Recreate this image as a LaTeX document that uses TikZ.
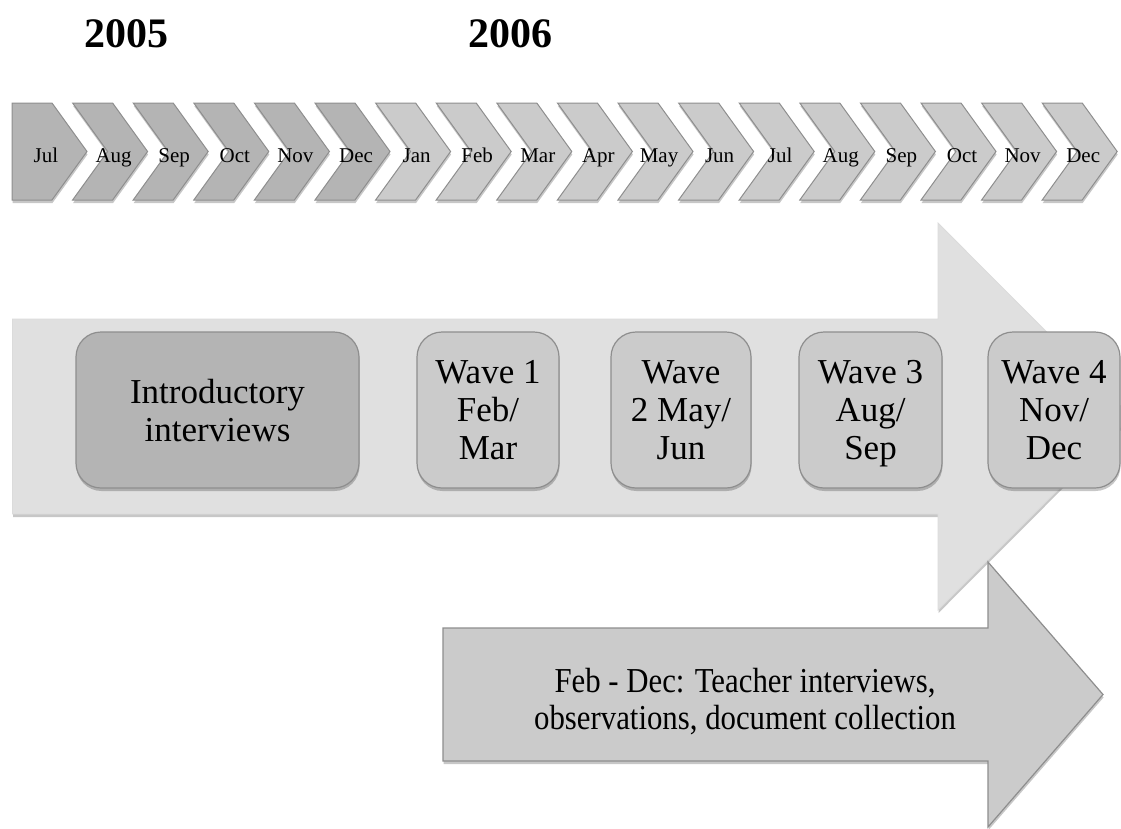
\documentclass[tikz,border=0pt]{standalone}
\usepackage{fontspec}
\setmainfont{Liberation Serif}
\newfontfamily\yearfont{Liberation Serif}
\usetikzlibrary{shadows}
\definecolor{darkg}{HTML}{B4B4B4}
\definecolor{lightg}{HTML}{CBCBCB}
\definecolor{paleg}{HTML}{E0E0E0}
\definecolor{edgeg}{HTML}{8E8E8E}
\begin{document}
\begin{tikzpicture}[x=1pt,y=-1pt,
  softshadow/.style={drop shadow={shadow xshift=0.5pt,shadow yshift=-3pt,opacity=0.22,fill=black}},
  chev/.style={draw=edgeg,line width=1pt,line join=miter,softshadow},
  month/.style={anchor=base,inner sep=0pt,font=\fontsize{21}{24}\selectfont},
  yearlab/.style={anchor=base,inner sep=0pt,font=\yearfont\fontsize{42}{46}\selectfont\bfseries},
  rbox/.style={draw=edgeg,line width=1.2pt,rounded corners=25pt,inner sep=0pt,
    minimum height=156pt,align=center,text depth=0pt,
    font=\fontsize{35}{38}\selectfont,softshadow},
  bigarrow/.style={fill=paleg,draw=black!14,line width=0.8pt,softshadow},
  lowarrow/.style={fill=lightg,draw=edgeg,line width=1.2pt,softshadow},
]
\useasboundingbox (0,0) rectangle (1121,828);

% years
\node[yearlab] (y2005) at (126.5,47) {2005};
\node[yearlab] (y2006) at (510.5,47) {2006};

% chevron timeline
\path[chev,fill=darkg] (12,103) -- (52,103) -- (87,151.5) -- (52,200) -- (12,200) -- cycle;
\node[month] (m0) at (46,162) {Jul};
\foreach \i/\m in {1/Aug,2/Sep,3/Oct,4/Nov,5/Dec,6/Jan,7/Feb,8/Mar,9/Apr,10/May,11/Jun,12/Jul,13/Aug,14/Sep,15/Oct,16/Nov,17/Dec}{
  \pgfmathsetmacro\xa{12+60.6*\i}
  \ifnum\i<6 \def\cc{darkg}\else\def\cc{lightg}\fi
  \path[chev,fill=\cc] (\xa,103) -- (\xa+40,103) -- (\xa+75,151.5) -- (\xa+40,200)
     -- (\xa,200) -- (\xa+35,151.5) -- cycle;
  \node[month] (m\i) at (\xa+41,162) {\m};
}

% big light arrow
\path[bigarrow] (12.5,319) -- (938,319) -- (938,223) -- (1131,416.5) -- (938,610)
   -- (938,514) -- (12.5,514) -- cycle;

% boxes
\node[rbox,fill=darkg,minimum width=283pt] (intro) at (217.5,410) {Introductory\\interviews};
\node[rbox,fill=lightg,minimum width=142pt] (w1) at (488,410) {Wave 1\\Feb/\\Mar};
\node[rbox,fill=lightg,minimum width=140pt] (w2) at (681,410) {Wave\\2 May/\\Jun};
\node[rbox,fill=lightg,minimum width=143pt] (w3) at (870.5,410) {Wave 3\\Aug/\\Sep};
\node[rbox,fill=lightg,minimum width=132pt] (w4) at (1054,410) {Wave 4\\Nov/\\Dec};

% lower arrow
\path[lowarrow] (443,628) -- (988,628) -- (988,562) -- (1103,694.5) -- (988,827)
   -- (988,761) -- (443,761) -- cycle;
\node[inner sep=0pt,font=\fontsize{35}{37}\selectfont] (collect) at (745,704)
  {\scalebox{0.88}[1]{\begin{tabular}{@{}c@{}}Feb - Dec: Teacher interviews,\\observations, document collection\end{tabular}}};
\end{tikzpicture}
\end{document}
